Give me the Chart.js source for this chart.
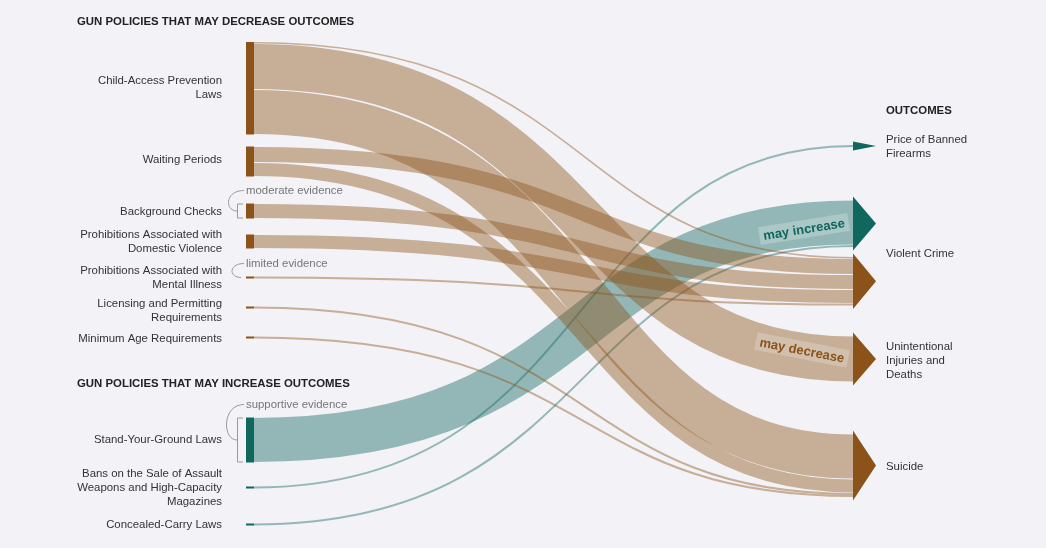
<!DOCTYPE html>
<html>
<head>
<meta charset="utf-8">
<script src="https://cdn.jsdelivr.net/npm/chart.js@4.4.1/dist/chart.umd.min.js"></script>
<style>
html,body{margin:0;padding:0;background:#f2f2f7;}
#wrap{width:1046px;height:548px;position:relative;}
</style>
</head>
<body>
<div id="wrap"><canvas id="c"></canvas></div>
<script>
// ---------------- DATA ----------------
const policies = [
  ["Child-Access Prevention", "Laws"],
  ["Waiting Periods"],
  ["Background Checks"],
  ["Prohibitions Associated with", "Domestic Violence"],
  ["Prohibitions Associated with", "Mental Illness"],
  ["Licensing and Permitting", "Requirements"],
  ["Minimum Age Requirements"],
  ["Stand-Your-Ground Laws"],
  ["Bans on the Sale of Assault", "Weapons and High-Capacity", "Magazines"],
  ["Concealed-Carry Laws"]
];
const policyEffect = ["decrease","decrease","decrease","decrease","decrease","decrease","decrease","increase","increase","increase"];

const outcomes = ["Price of Banned Firearms", "Violent Crime (increase)", "Violent Crime (decrease)", "Unintentional Injuries and Deaths", "Suicide"];
const outcomeEffect = ["increase","increase","decrease","decrease","decrease"];
const outcomeLabels = [["Price of Banned", "Firearms"], ["Violent Crime"], ["Unintentional", "Injuries and", "Deaths"], ["Suicide"]];

// links: source policy index -> target outcome index, weight
const linkSource = [0, 0, 0, 1, 1, 2, 3, 4, 5, 6, 7, 8, 9];
const linkTarget = [2, 3, 4, 2, 4, 2, 2, 2, 4, 4, 1, 0, 1];
const linkValue  = [1.5, 46, 45, 16, 14, 15, 14, 2, 2, 2, 45, 2, 2];

const evidenceText = ["moderate evidence", "limited evidence", "supportive evidence"];
const evidencePolicy = [2, 4, 7];

const groupHeaders = ["GUN POLICIES THAT MAY DECREASE OUTCOMES", "GUN POLICIES THAT MAY INCREASE OUTCOMES", "OUTCOMES"];
const directionText = ["may increase", "may decrease"];

// ---------------- LAYOUT / STYLE ----------------
const layout = {
  leftX: 246, nodeW: 8, rightX: 853, arrowW: 23, arrowPad: 3.5,
  leftStart: 42, leftGaps: [0, 12, 27, 16, 28, 28, 28, 79, 24, 35],
  rightStart: 145, rightGaps: [0, 53, 10, 30.5, 52],
  ctrlA: 0.58, ctrlB: 0.52,
  labelRightX: 222, outcomeLabelX: 886, lineH: 14,
  labelNudge: [0, -1.5, 0.5, 0, 0, 3, 1.5, 0, 0.5, 0],
  headers: [[77, 22], [77, 384], [886, 111]],
  outcomeLabelY: [147, 254, 361, 467],
  dirLabels: [{x: 804, y: 229, a: -9}, {x: 802, y: 350, a: 11}]
};
const colors = {
  decrease: '#8b5319', increase: '#10675e',
  decreaseLink: 'rgba(139,83,25,0.43)', increaseLink: 'rgba(16,103,94,0.42)',
  text: '#333333', header: '#222222', evidence: '#777777', bracket: '#9a9a9a'
};
const FONT = "'Liberation Sans', Arial, Helvetica, sans-serif";
const FS = "11.4px ";

const sankeyPlugin = {
  id: 'sankey',
  afterDraw(chart) {
    const ctx = chart.ctx;
    const xs = chart.scales.x, ys = chart.scales.y;
    const X = v => xs.getPixelForValue(v);
    const Y = v => ys.getPixelForValue(v);

    const srcTotal = policies.map((_, i) => linkValue.reduce((s, v, k) => s + (linkSource[k] === i ? v : 0), 0));
    const tgtTotal = outcomes.map((_, i) => linkValue.reduce((s, v, k) => s + (linkTarget[k] === i ? v : 0), 0));
    const srcTop = [], tgtTop = [];
    let acc = layout.leftStart;
    srcTotal.forEach((t, i) => { acc += layout.leftGaps[i]; srcTop.push(acc); acc += t; });
    acc = layout.rightStart;
    tgtTotal.forEach((t, i) => { acc += layout.rightGaps[i]; tgtTop.push(acc); acc += t; });

    const idx = linkValue.map((_, k) => k);
    const srcOff = srcTop.slice(), tgtOff = tgtTop.slice();
    const ys0 = [], ys1 = [];
    idx.slice().sort((a, b) => linkTarget[a] - linkTarget[b] || linkSource[a] - linkSource[b]).forEach(k => {
      ys0[k] = srcOff[linkSource[k]] + linkValue[k] / 2; srcOff[linkSource[k]] += linkValue[k];
    });
    idx.slice().sort((a, b) => linkSource[a] - linkSource[b]).forEach(k => {
      ys1[k] = tgtOff[linkTarget[k]] + linkValue[k] / 2; tgtOff[linkTarget[k]] += linkValue[k];
    });

    ctx.save();
    const x0 = X(layout.leftX + layout.nodeW), x1 = X(layout.rightX), dx = x1 - x0;
    // increase links underneath, decrease links on top
    const drawOrder = idx.slice().sort((a, b) =>
      (policyEffect[linkSource[a]] === 'increase' ? 0 : 1) - (policyEffect[linkSource[b]] === 'increase' ? 0 : 1));
    drawOrder.forEach(k => {
      const w = Math.abs(Y(linkValue[k]) - Y(0));
      const a = Y(ys0[k]), b = Y(ys1[k]);
      ctx.beginPath();
      ctx.moveTo(x0, a);
      ctx.bezierCurveTo(x0 + layout.ctrlA * dx, a, x0 + layout.ctrlB * dx, b, x1, b);
      ctx.lineWidth = w > 4 ? w - 1 : Math.max(w, 1.6);
      ctx.lineCap = 'butt';
      ctx.strokeStyle = colors[policyEffect[linkSource[k]] + 'Link'];
      ctx.stroke();
    });

    srcTop.forEach((t, i) => {
      ctx.fillStyle = colors[policyEffect[i]];
      const top = Y(t), h = Math.abs(Y(t + srcTotal[i]) - top);
      ctx.fillRect(X(layout.leftX), top, X(layout.leftX + layout.nodeW) - X(layout.leftX), Math.max(h, 1.5));
    });
    tgtTop.forEach((t, i) => {
      const top = Y(t) - layout.arrowPad, bot = Y(t + tgtTotal[i]) + layout.arrowPad;
      ctx.fillStyle = colors[outcomeEffect[i]];
      ctx.beginPath();
      ctx.moveTo(X(layout.rightX), top);
      ctx.lineTo(X(layout.rightX + layout.arrowW), (top + bot) / 2);
      ctx.lineTo(X(layout.rightX), bot);
      ctx.closePath();
      ctx.fill();
    });

    directionText.forEach((txt, i) => {
      const d = layout.dirLabels[i];
      ctx.save();
      ctx.translate(X(d.x), Y(d.y));
      ctx.rotate(d.a * Math.PI / 180);
      ctx.font = "bold 13px " + FONT;
      const tw = ctx.measureText(txt).width;
      ctx.fillStyle = 'rgba(255,255,255,0.22)';
      ctx.fillRect(-tw / 2 - 4, -9, tw + 8, 18);
      ctx.fillStyle = i === 0 ? colors.increase : colors.decrease;
      ctx.textAlign = 'center'; ctx.textBaseline = 'middle';
      ctx.fillText(txt, 0, 1);
      ctx.restore();
    });

    ctx.font = FS + FONT;
    ctx.fillStyle = colors.text;
    ctx.textAlign = 'right'; ctx.textBaseline = 'middle';
    policies.forEach((lines, i) => {
      const c = Y(srcTop[i] + srcTotal[i] / 2) + layout.labelNudge[i];
      lines.forEach((ln, j) => ctx.fillText(ln, layout.labelRightX, c + (j - (lines.length - 1) / 2) * layout.lineH));
    });
    ctx.textAlign = 'left';
    outcomeLabels.forEach((lines, i) => {
      const c = layout.outcomeLabelY[i];
      lines.forEach((ln, j) => ctx.fillText(ln, layout.outcomeLabelX, c + (j - (lines.length - 1) / 2) * layout.lineH));
    });
    ctx.font = "bold " + FS + FONT;
    ctx.fillStyle = colors.header;
    groupHeaders.forEach((h, i) => ctx.fillText(h, layout.headers[i][0], layout.headers[i][1]));

    evidencePolicy.forEach((p, i) => {
      const top = Y(srcTop[p]), bot = Y(srcTop[p] + srcTotal[p]);
      const ly = top - 13, mid = (top + bot) / 2;
      ctx.font = FS + FONT;
      ctx.fillStyle = colors.evidence;
      ctx.textAlign = 'left';
      ctx.fillText(evidenceText[i], X(layout.leftX), ly);
      ctx.strokeStyle = colors.bracket; ctx.lineWidth = 1;
      const big = (bot - top) > 5;
      const endX = big ? 237 : 241;
      const cx = 237 - Math.min(15, (mid - ly) * 0.6);
      ctx.beginPath();
      ctx.moveTo(244, ly);
      ctx.bezierCurveTo(cx, ly, cx, mid, endX, mid);
      ctx.stroke();
      if (big) {
        ctx.beginPath();
        ctx.moveTo(243, top + 0.5); ctx.lineTo(237.5, top + 0.5); ctx.lineTo(237.5, bot - 0.5); ctx.lineTo(243, bot - 0.5);
        ctx.stroke();
      }
    });
    ctx.restore();
  }
};

new Chart(document.getElementById('c'), {
  type: 'scatter',
  data: { datasets: [{ data: [], pointRadius: 0 }] },
  options: {
    responsive: true, maintainAspectRatio: false, animation: false,
    layout: { padding: 0 },
    plugins: { legend: { display: false }, tooltip: { enabled: false } },
    scales: {
      x: { type: 'linear', min: 0, max: 1046, display: false },
      y: { type: 'linear', min: 0, max: 548, reverse: true, display: false }
    }
  },
  plugins: [sankeyPlugin]
});
</script>
</body>
</html>
